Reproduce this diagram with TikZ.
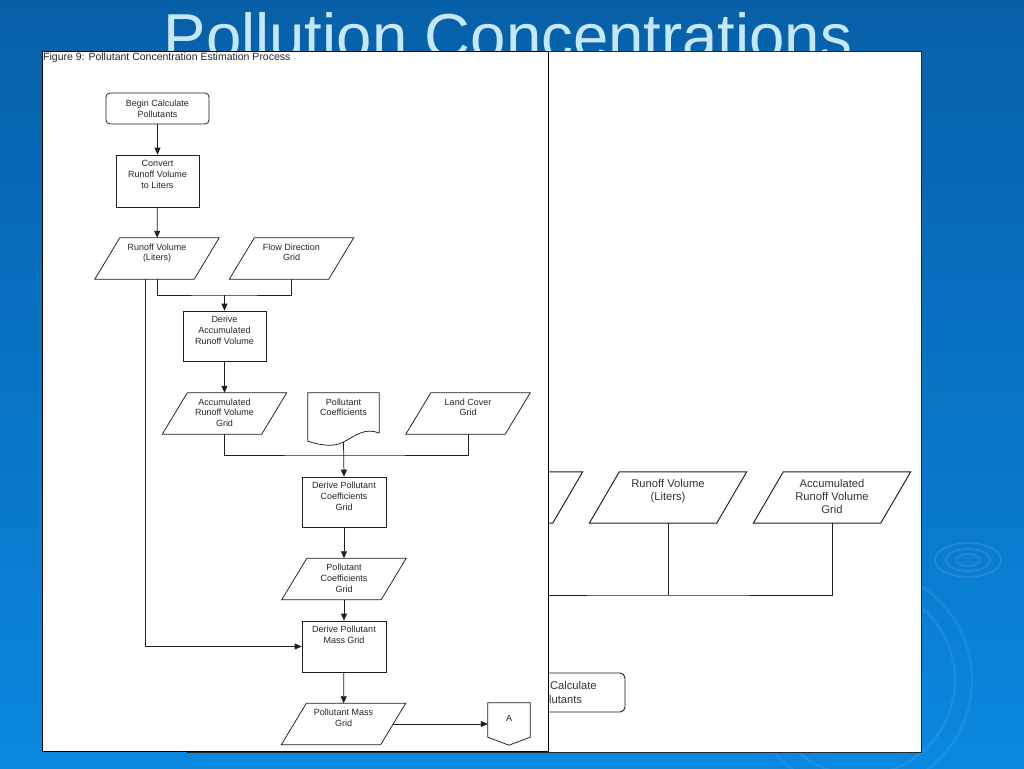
\documentclass[tikz,border=0pt]{standalone}
\usepackage{fontspec}
\setmainfont{Liberation Sans}
\usetikzlibrary{arrows.meta,calc}
\definecolor{bgtop}{RGB}{6,96,168}
\definecolor{bgbot}{RGB}{10,136,224}
\definecolor{titlec}{RGB}{198,230,250}
\definecolor{linec}{RGB}{30,30,30}
\newcommand\paral[3][flow]{\draw[#1] ([xshift=#3]#2.north west) -- ([xshift=#3]#2.north east) -- ([xshift=-#3]#2.south east) -- ([xshift=-#3]#2.south west) -- cycle;}
\begin{document}
\begin{tikzpicture}[x=1pt,y=-1pt,
  flow/.style={draw=linec, line width=0.75pt},
  bflow/.style={draw=linec, line width=0.95pt},
  arr/.style={flow, -{Triangle[length=7pt,width=6pt]}},
  ftext/.style={font=\fontsize{9}{10.8}\selectfont, align=center, text=black!85},
  btext/.style={font=\fontsize{11.2}{13.2}\selectfont, align=center, text=black!80},
  lab/.style={label={[ftext, anchor=north, inner sep=0pt, yshift=-5.5pt]north:#1}},
  blab/.style={label={[btext, anchor=north, inner sep=0pt, yshift=-7pt]north:#1}},
  procbox/.style 2 args={flow, minimum width=#1, minimum height=#2, inner sep=0pt},
  pnode/.style={minimum width=99pt, minimum height=41pt, inner sep=0pt},
  pb/.style={minimum width=127pt, minimum height=51pt, inner sep=0pt},
  ripple/.style={draw=white, opacity=0.10, line width=1.6pt}
]
\useasboundingbox (0,0) rectangle (1024,768);
\shade[top color=bgtop, bottom color=bgbot] (0,0) rectangle (1024,768);
% background ripples
\draw[ripple] (968,560) ellipse [x radius=12, y radius=6];
\draw[ripple] (968,560) ellipse [x radius=22, y radius=11];
\draw[ripple] (968,560) ellipse [x radius=33, y radius=17];
\draw[ripple, opacity=0.08, line width=2.5pt] (860,680) circle [radius=95];
\draw[ripple, opacity=0.07, line width=2.5pt] (860,680) circle [radius=112];
% title
\node[font=\fontsize{63.5}{63.5}\selectfont, text=titlec, anchor=base, inner sep=0pt] (title) at (508,59) {Pollution Concentrations};
% back panel
\draw[fill=white, draw=black!85, line width=0.8pt] (187,51) rectangle (921,752);
\node[pb] (bP) at (504,497.5) {};
\paral[bflow]{bP}{15pt}
\node[pb, blab={Runoff Volume\\(Liters)}] (bRun) at (668,497.5) {};
\paral[bflow]{bRun}{15pt}
\node[pb, blab={Accumulated\\Runoff Volume\\Grid}] (bAcc) at (832,497.5) {};
\paral[bflow]{bAcc}{15pt}
\coordinate (bj) at (668,595);
\draw[bflow] (bP.south) |- (bj) -| (bAcc.south);
\draw[bflow] (bRun.south) -- (bj);
\node[bflow, rounded corners=5pt, btext, minimum width=135pt, minimum height=39pt, inner sep=0pt] (bBegin) at (557.5,692.5) {Begin Calculate\\Pollutants};
% front panel
\draw[fill=white, draw=black, line width=0.9pt] (42,51) rectangle (548,751);
\node[anchor=west, inner sep=0pt, font=\fontsize{10.5}{12}\selectfont, text=black!85] (figt) at (43,58) {Figure 9: Pollutant Concentration Estimation Process};
% flowchart
\node[flow, rounded corners=4pt, ftext, minimum width=103pt, minimum height=31pt, inner sep=0pt] (begin) at (157.5,108.5) {Begin Calculate\\Pollutants};
\node[procbox={83pt}{52pt}, lab={Convert\\Runoff Volume\\to Liters}] (convert) at (157.5,181) {};
\node[pnode, lab={Runoff Volume\\(Liters)}] (pRun) at (157,258.5) {};
\paral{pRun}{12.5pt}
\node[pnode, lab={Flow Direction\\Grid}] (pFlow) at (291.5,258.5) {};
\paral{pFlow}{12.5pt}
\node[procbox={83pt}{50pt}, lab={Derive\\Accumulated\\Runoff Volume}] (dAcc) at (224.5,336) {};
\node[pnode, lab={Accumulated\\Runoff Volume\\Grid}] (pAcc) at (224.5,413.5) {};
\paral{pAcc}{12.5pt}
\node[minimum width=71pt, minimum height=40pt, inner sep=0pt, lab={Pollutant\\Coefficients}] (pCoef) at (343.5,413) {};
\draw[flow] (pCoef.south east) -- (pCoef.north east) -- (pCoef.north west) -- ([yshift=-8pt]pCoef.south west) .. controls (326,447) and (336,446) .. (343.5,442) .. controls (355,436) and (365,427) .. (pCoef.south east);
\coordinate (pCoefB) at (343.5,442);
\node[pnode, lab={Land Cover\\Grid}] (pLand) at (468,413.5) {};
\paral{pLand}{12.5pt}
\node[procbox={84pt}{50pt}, lab={Derive Pollutant\\Coefficients\\Grid}] (dCoef) at (344,502) {};
\node[pnode, lab={Pollutant\\Coefficients\\Grid}] (pCG) at (344,579) {};
\paral{pCG}{12.5pt}
\node[procbox={84pt}{51pt}, lab={Derive Pollutant\\Mass Grid}] (dMass) at (344,646.5) {};
\node[pnode, lab={Pollutant Mass\\Grid}] (pMass) at (343.5,724) {};
\paral{pMass}{12.5pt}
\node[minimum width=42pt, minimum height=34pt, inner sep=0pt, ftext] (offA) at (509,720) {\raisebox{4pt}{A}};
\draw[flow] (offA.south east) -- (offA.north east) -- (offA.north west) -- (offA.south west) -- ([yshift=-8pt]offA.south) -- cycle;
% connectors
\coordinate (j1) at (224.5,295);
\coordinate (j2) at (343.5,455);
\draw[arr] (begin) -- (convert);
\draw[arr] (convert) -- (pRun);
\draw[flow] (pRun.south) |- (j1) -| (pFlow.south);
\draw[arr] (j1) -- (dAcc.north);
\draw[arr] ([xshift=-12pt]pRun.south) |- (dMass.west);
\draw[arr] (dAcc) -- (pAcc);
\draw[flow] (pAcc.south) |- (j2) -| (pLand.south);
\draw[arr] (pCoefB) -- (dCoef.north);
\draw[arr] (dCoef) -- (pCG);
\draw[arr] (pCG) -- (dMass);
\draw[arr] (dMass) -- (pMass);
\draw[arr] (pMass.east) -- (pMass.east -| offA.west);
\end{tikzpicture}
\end{document}
